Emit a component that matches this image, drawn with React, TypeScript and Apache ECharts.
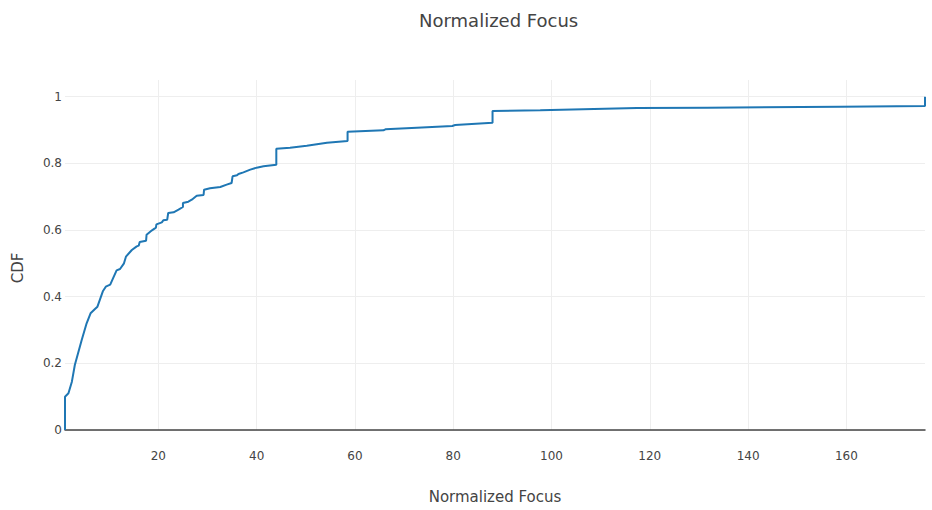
import { useEffect, useRef } from "react";
import * as echarts from "echarts";

const focusValues = [
  1, 1, 1.7, 2.4, 3.0, 4.4, 5.4, 6.2, 7.1, 7.6, 8.7, 9.3, 10.2, 11.5, 12.2, 13.0,
  13.4, 14.6, 15.6, 16.0, 16.2, 17.5, 17.6, 18.7, 19.5, 19.6, 20.7, 21.0, 21.8, 22.0,
  23.1, 24.1, 25.0, 25.0, 26.1, 26.8, 27.8, 29.2, 29.3, 30.5, 32.6, 33.9, 34.9, 35.1,
  36.0, 36.3, 37.3, 38.7, 40.0, 41.4, 44.0, 44.0, 46.8, 50.2, 54.3, 58.5, 58.5, 65.8,
  66.2, 72.6, 79.8, 80.4, 88.0, 88.0, 97.7, 117.4, 131.7, 158.8, 176, 176,
];
const cdfValues = [
  0, 0.1, 0.11, 0.145, 0.195, 0.27, 0.32, 0.35, 0.363, 0.37, 0.416, 0.43, 0.436, 0.479,
  0.483, 0.5, 0.52, 0.54, 0.551, 0.553, 0.564, 0.568, 0.586, 0.599, 0.607, 0.617, 0.623,
  0.629, 0.631, 0.651, 0.653, 0.661, 0.669, 0.681, 0.685, 0.691, 0.703, 0.705, 0.721,
  0.725, 0.729, 0.736, 0.741, 0.761, 0.764, 0.768, 0.773, 0.781, 0.787, 0.791, 0.796,
  0.844, 0.847, 0.853, 0.862, 0.867, 0.895, 0.899, 0.902, 0.907, 0.912, 0.915, 0.922,
  0.957, 0.959, 0.966, 0.967, 0.97, 0.972, 1.0,
];
const xTickValues = [20, 40, 60, 80, 100, 120, 140, 160];
const yTickValues = [0, 0.2, 0.4, 0.6, 0.8, 1];

const FONT = "DejaVu Sans";

export default function App() {
  const ref = useRef<HTMLDivElement>(null);
  useEffect(() => {
    document.body.style.margin = "0";
    const chart = echarts.init(ref.current!, null, { renderer: "svg" });
    const data = focusValues.map((x, i) => [x, cdfValues[i]]);
    chart.setOption({
      animation: false,
      backgroundColor: "#ffffff",
      textStyle: { fontFamily: FONT },
      title: {
        text: "Normalized Focus",
        left: 414,
        top: 6,
        textStyle: { fontFamily: FONT, fontSize: 18, fontWeight: "normal", color: "#444" },
      },
      grid: { left: 65, right: 7, top: 80, bottom: 80 },
      xAxis: {
        type: "value",
        min: 1,
        max: 176,
        name: "Normalized Focus",
        nameLocation: "middle",
        nameGap: 59,
        nameTextStyle: { fontFamily: FONT, fontSize: 15, color: "#444" },
        axisLine: { show: true, onZero: false, lineStyle: { color: "#444", width: 1.5 } },
        axisTick: { show: false, customValues: xTickValues },
        axisLabel: {
          customValues: xTickValues,
          margin: 20,
          fontFamily: FONT,
          fontSize: 12,
          color: "#444",
        },
        splitLine: { show: true, lineStyle: { color: "#eeeeee", width: 1 } },
      },
      yAxis: {
        type: "value",
        min: 0,
        max: 1.05,
        name: "CDF",
        nameLocation: "middle",
        nameGap: 40,
        nameTextStyle: { fontFamily: FONT, fontSize: 15, color: "#444", padding: [0, 26, 0, 0] },
        axisLine: { show: false },
        axisTick: { show: false, customValues: yTickValues },
        axisLabel: {
          customValues: yTickValues,
          margin: 3,
          fontFamily: FONT,
          fontSize: 12,
          color: "#444",
          formatter: (v: number) => String(Math.round(v * 10) / 10),
        },
        splitLine: { show: true, lineStyle: { color: "#eeeeee", width: 1 } },
      },
      series: [
        {
          type: "line",
          data,
          showSymbol: false,
          symbol: "none",
          clip: true,
          lineStyle: { color: "#1f77b4", width: 2 },
          itemStyle: { color: "#1f77b4" },
        },
      ],
    });
    return () => chart.dispose();
  }, []);
  return <div ref={ref} style={{ width: 932, height: 510 }} />;
}
